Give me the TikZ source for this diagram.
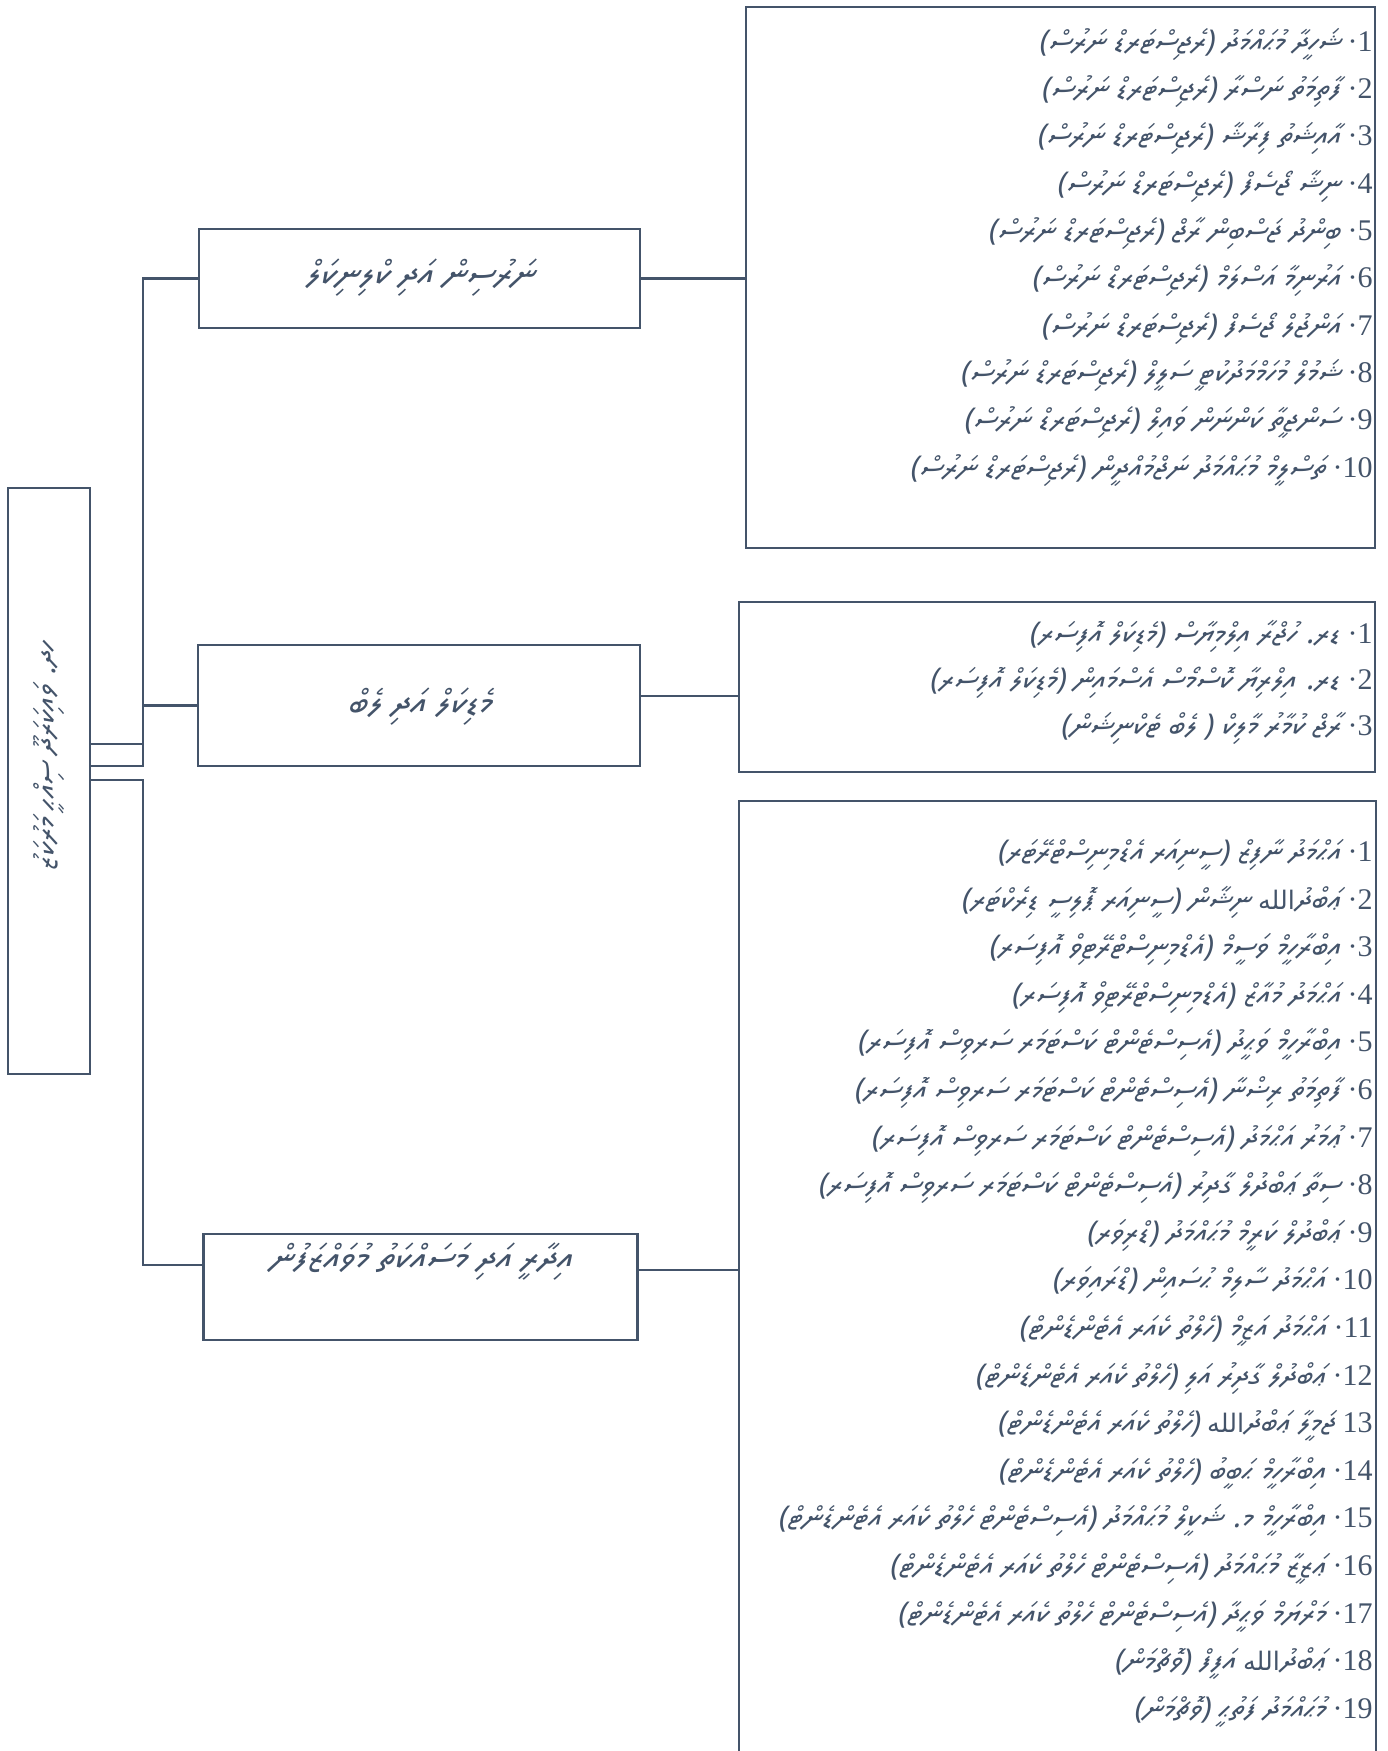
\documentclass[tikz,border=0pt]{standalone}
\usepackage{fontspec}
\setmainfont{Liberation Serif}
\IfFontExistsTF{Noto Sans Thaana}
  {\newfontfamily\dv[Script=Thaana,FakeSlant=0.2]{Noto Sans Thaana}}
  {\newfontfamily\dv[Script=Thaana,FakeSlant=0.2]{FreeSerif}}
\newfontfamily\arabicfont[Script=Arabic,Scale=0.85]{DejaVu Sans}
\TeXXeTstate=1
\definecolor{ink}{HTML}{44546A}
\newcommand\allahw{{\arabicfont الله}}
\tikzset{
  box/.style={draw=ink, line width=1.4pt, fill=white, inner sep=0pt},
  conn/.style={draw=ink, line width=1.4pt},
  item/.style={anchor=base east, inner sep=0pt, text=ink, font=\fontsize{15}{18}\selectfont},
  midtext/.style={inner sep=0pt, text=ink, font=\fontsize{18}{22}\selectfont},
}
\newcommand\itm[4]{\node[item] (#1) at (1373,#2) {{\dv\beginR #4\endR} #3};}
\begin{document}
\begin{tikzpicture}[x=0.5pt,y=-0.5pt]
\useasboundingbox (0,0) rectangle (1387,1751);
% left box
\node[box, minimum width=41pt, minimum height=293pt] (L) at (49,781) {};
\node[midtext, rotate=90, font=\fontsize{15}{18}\selectfont] (Lt) at (49,757) {\dv\beginR ހދ. ވައިކަރަދޫ ސިއްޙީ މަރުކަޒު\endR};
% middle boxes
\node[box, minimum width=220.5pt, minimum height=49.5pt] (m1) at (419.5,278.5) {};
\node[midtext] (m1t) at (419.5,278) {\dv\beginR ނަރުސިން އަދި ކްލިނިކަލް\endR};
\node[box, minimum width=221pt, minimum height=60.5pt] (m2) at (419,705.5) {};
\node[midtext] (m2t) at (419,707) {\dv\beginR މެޑިކަލް އަދި ލެބް\endR};
\node[box, minimum width=217pt, minimum height=53pt] (m3) at (420.5,1287) {};
\node[midtext] (m3t) at (420.5,1262) {\dv\beginR އިދާރީ އަދި މަސައްކަތު މުވައްޒަފުން\endR};
% right boxes
\node[box, minimum width=314.5pt, minimum height=270.5pt] (r1) at (1060.5,277.5) {};
\node[box, minimum width=318pt, minimum height=85pt] (r2) at (1057,687) {};
\node[box, minimum width=318.5pt, minimum height=489.5pt] (r3) at (1057.5,1290.5) {};
% connectors left
\coordinate (j) at (143,744);
\draw[conn] (L.east |- 0,744) -- (j) |- (m1.west);
\draw[conn] (L.east |- 0,766) -- (143,766) |- (m2.west);
\draw[conn] (L.east |- 0,780) -- (143,780) |- (m3.west |- 0,1265);
% connectors right
\draw[conn] (m1.east) -- (r1.west |- m1.east);
\draw[conn] (m2.east |- 0,696) -- (r2.west |- 0,696);
\draw[conn] (m3.east |- 0,1270) -- (r3.west |- 0,1270);
% box 1 items
\itm{a1}{51}{·1}{ޝަހީދާ މުޙައްމަދު (ރެޖިސްޓަރޑް ނަރުސް)}
\itm{a2}{98}{·2}{ފާތިމަތު ނަސްރާ (ރެޖިސްޓަރޑް ނަރުސް)}
\itm{a3}{145}{·3}{އާއިޝަތު ފިރާޝާ (ރެޖިސްޓަރޑް ނަރުސް)}
\itm{a4}{193}{·4}{ނިޝާ ޖޯސެފް (ރެޖިސްޓަރޑް ނަރުސް)}
\itm{a5}{240}{·5}{ބިންދު ޖަސްބިން ރާޖް (ރެޖިސްޓަރޑް ނަރުސް)}
\itm{a6}{287}{·6}{އަރުނިމާ އަސްލަމް (ރެޖިސްޓަރޑް ނަރުސް)}
\itm{a7}{335}{·7}{އަންޖުލް ޖޯސެފް (ރެޖިސްޓަރޑް ނަރުސް)}
\itm{a8}{382}{·8}{ޝަމުލް މުހަމްމަދުކުޓީ ސަލީލް (ރެޖިސްޓަރޑް ނަރުސް)}
\itm{a9}{429}{·9}{ސަންޖީތާ ކަންނަން ވައިލް (ރެޖިސްޓަރޑް ނަރުސް)}
\itm{a10}{477}{·10}{ތަސްލީމް މުޙައްމަދު ނަޖްމުއްދީން (ރެޖިސްޓަރޑް ނަރުސް)}
% box 2 items
\itm{b1}{643}{·1}{ޑރ. ހުޖްރާ އިލްމިޔާސް (މެޑިކަލް އޮފިސަރ)}
\itm{b2}{689}{·2}{ޑރ. އިލްރިޔާ ކޮސްމޯސް އެސްމައިން (މެޑިކަލް އޮފިސަރ)}
\itm{b3}{735}{·3}{ރާޖް ކުމާރު މާލިކް ( ލެބް ޓެކްނިޝަން)}
% box 3 items
\itm{c1}{861}{·1}{އަޙްމަދު ނާފިޒް (ސީނިއަރ އެޑްމިނިސްޓްރޭޓަރ)}
\itm{c2}{909}{·2}{ޢަބްދު\allahw{} ނިޝާން (ސީނިއަރ ޕޮލިސީ ޑިރެކްޓަރ)}
\itm{c3}{956}{·3}{އިބްރާހީމް ވަސީމް (އެޑްމިނިސްޓްރޭޓިވް އޮފިސަރ)}
\itm{c4}{1004}{·4}{އަޙްމަދު މުއާޒް (އެޑްމިނިސްޓްރޭޓިވް އޮފިސަރ)}
\itm{c5}{1051}{·5}{އިބްރާހީމް ވަޙީދު (އެސިސްޓެންޓް ކަސްޓަމަރ ސަރވިސް އޮފިސަރ)}
\itm{c6}{1099}{·6}{ފާތިމަތު ރިޟްނާ (އެސިސްޓެންޓް ކަސްޓަމަރ ސަރވިސް އޮފިސަރ)}
\itm{c7}{1147}{·7}{ޢުމަރު އަޙްމަދު (އެސިސްޓެންޓް ކަސްޓަމަރ ސަރވިސް އޮފިސަރ)}
\itm{c8}{1194}{·8}{ސިތާ ޢަބްދުލް ގާދިރު (އެސިސްޓެންޓް ކަސްޓަމަރ ސަރވިސް އޮފިސަރ)}
\itm{c9}{1242}{·9}{ޢަބްދުލް ކަރީމް މުޙައްމަދު (ޑްރިވަރ)}
\itm{c10}{1289}{·10}{އަޙްމަދު ސާލިމް ޙުސައިން (ޑްރައިވަރ)}
\itm{c11}{1337}{·11}{އަޙްމަދު އަޒީމް (ހެލްތު ކެއަރ އެޓެންޑެންޓް)}
\itm{c12}{1385}{·12}{ޢަބްދުލް ގާދިރު އަލި (ހެލްތު ކެއަރ އެޓެންޑެންޓް)}
\itm{c13}{1432}{13}{ޖަމީލާ ޢަބްދު\allahw{} (ހެލްތު ކެއަރ އެޓެންޑެންޓް)}
\itm{c14}{1480}{·14}{އިބްރާހީމް ޙަބީބު (ހެލްތު ކެއަރ އެޓެންޑެންޓް)}
\itm{c15}{1527}{·15}{އިބްރާހީމް މ. ޝަކީލް މުޙައްމަދު (އެސިސްޓެންޓް ހެލްތު ކެއަރ އެޓެންޑެންޓް)}
\itm{c16}{1575}{·16}{ޢަޒީޒާ މުޙައްމަދު (އެސިސްޓެންޓް ހެލްތު ކެއަރ އެޓެންޑެންޓް)}
\itm{c17}{1623}{·17}{މަރްޔަމް ވަޙީދާ (އެސިސްޓެންޓް ހެލްތު ކެއަރ އެޓެންޑެންޓް)}
\itm{c18}{1670}{·18}{ޢަބްދު\allahw{} އަފީފް (ވޮޗްމަން)}
\itm{c19}{1718}{·19}{މުޙައްމަދު ފަތުޙީ (ވޮޗްމަން)}
\end{tikzpicture}
\end{document}
